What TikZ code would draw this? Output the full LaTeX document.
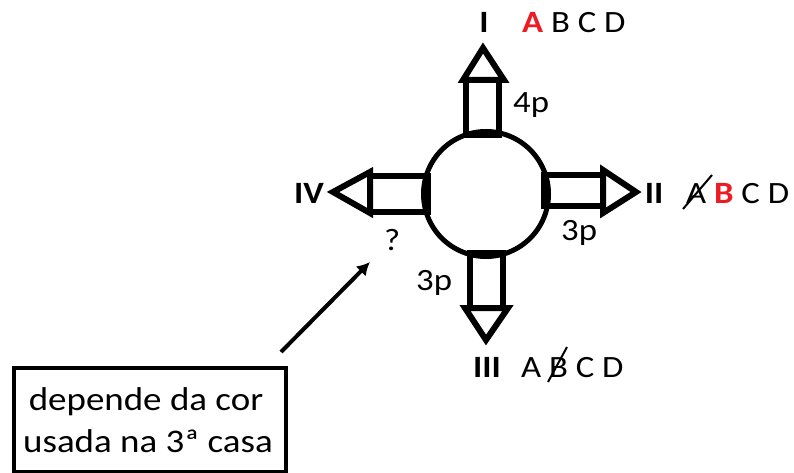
\documentclass[tikz,border=0pt]{standalone}
\usepackage{fontspec}
\setmainfont{Carlito}[FakeStretch=1.12]
\usetikzlibrary{arrows.meta}
\definecolor{pred}{RGB}{237,28,36}
\begin{document}
\begin{tikzpicture}[x=1pt,y=-1pt,
  shp/.style={line width=6pt,line join=miter},
  lbl/.style={font=\fontsize{31}{31}\selectfont,inner sep=0pt,anchor=base west},
  blbl/.style={font=\fontsize{31}{31}\selectfont\bfseries,inner sep=0pt,anchor=base},
  strike/.style={line width=2pt,black},
  boxtxt/.style={font=\fontsize{33}{33}\selectfont,inner sep=0pt,anchor=base}]
\useasboundingbox (0,0) rectangle (794,473);
% circle
\node (c) [circle,draw,line width=5pt,minimum size=125pt,inner sep=0pt] at (486,194) {};
% top arrow
\draw[shp] (466,80) rectangle (499,135);
\draw[shp] (463,80) -- (504,80) -- (483,48) -- cycle;
% right arrow
\draw[shp] (544,175) rectangle (603,206);
\draw[shp] (603,170) -- (603,213) -- (636,192) -- cycle;
% bottom arrow
\draw[shp] (470,253) rectangle (503,308);
\draw[shp] (465,308) -- (508,308) -- (486,340) -- cycle;
% left arrow
\draw[shp] (370,176) rectangle (428,212);
\draw[shp] (370,172) -- (370,213) -- (333,192) -- cycle;
% labels
\node (lI) [blbl] at (484,33) {I};
\node (lIabcd) [lbl] at (522,33) {\textcolor{pred}{\bfseries A} B C D};
\node (p4) [lbl] at (513,113) {4p};
\node (lII) [blbl] at (654,203) {II};
\node (lIIabcd) [lbl] at (686,203) {A \textcolor{pred}{\bfseries B} C D};
\draw[strike] (683,209) -- (712,175);
\node (p3r) [lbl] at (561,240) {3p};
\node (lIII) [blbl] at (487,377) {III};
\node (lIIIabcd) [lbl] at (521,377) {A B C D};
\draw[strike] (548,382) -- (567,347);
\node (p3l) [lbl] at (416,290) {3p};
\node (lIV) [blbl] at (309,203) {IV};
\node (q) [lbl] at (384,250) {?};
% box
\node (box) [draw,line width=4pt,minimum width=272pt,minimum height=104pt,inner sep=0pt] at (150,420) {};
\node (bt1) [boxtxt] at (146,410) {depende da cor};
\node (bt2) [boxtxt] at (148,452) {usada na 3ª casa};
% connector
\coordinate (as) at (281,352);
\coordinate (at) at (370,262);
\draw[line width=4pt,-{Latex[length=13pt,width=14pt]}] (as) -- (at);
\end{tikzpicture}
\end{document}
